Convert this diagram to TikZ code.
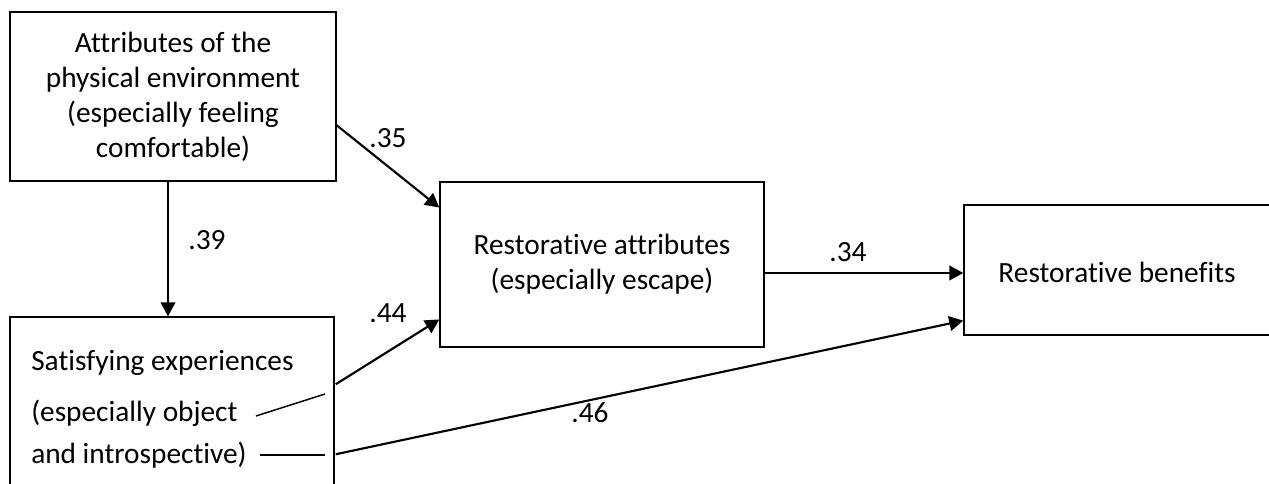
\documentclass[tikz,border=0pt]{standalone}
\usepackage{fontspec}
\setmainfont[Ligatures=NoCommon]{Carlito}
\usetikzlibrary{arrows.meta,calc}
\newdimen\pxu
\pxu=0.75pt
\begin{document}
\begin{tikzpicture}[x=0.75pt,y=-0.75pt,
  box/.style={draw, line width=1.1pt, rectangle, inner sep=0pt, align=center,
    font=\fontsize{22}{26.25}\selectfont},
  txt/.style={inner sep=0pt, font=\fontsize{22}{26.25}\selectfont},
  lbl/.style={inner sep=0pt, font=\fontsize{22}{26.25}\selectfont},
  arr/.style={line width=1.6pt, -{Triangle[length=10.5pt,width=11pt]}},
  thin/.style={line width=1.1pt}]
\useasboundingbox (0,0) rectangle (1269,484);
\clip (0,0) rectangle (1269,484);
\fill[white] (0,0) rectangle (1269,484);

\node[box, minimum width=326\pxu, minimum height=169\pxu] (A) at (173,96.5)
  {Attributes of the\\physical environment\\(especially feeling\\comfortable)};
\node[box, minimum width=324\pxu, minimum height=165\pxu] (R) at (602,264.5)
  {Restorative attributes\\(especially escape)};
\node[box, minimum width=308\pxu, minimum height=130\pxu] (B) at (1118,270) {};
\node[txt] (Bt) at (1117,272) {Restorative benefits};
\node[box, minimum width=324\pxu, minimum height=183\pxu] (S) at (172,408.5) {};
\node[txt, anchor=west] (s1) at (31,363) {Satisfying experiences};
\node[txt, anchor=west] (s2) at (31,413) {(especially object};
\node[txt, anchor=west] (s3) at (31,455) {and introspective)};

% short strokes inside S
\coordinate (l1a) at (256,416);
\coordinate (l1b) at (325,394);
\coordinate (l2a) at (260,455);
\coordinate (l2b) at (325,455);
\draw[thin] (l1a) -- (l1b);
\draw[thin] (l2a) -- (l2b);

% connector end points on the box borders
\coordinate (a1) at ($(A.south)+(-5,0)$);
\coordinate (a2) at (a1 |- S.north);
\coordinate (b1) at ($(A.north east)!0.669!(A.south east)$);
\coordinate (b2) at ($(R.north west)!0.158!(R.south west)$);
\coordinate (c1) at ($(S.north east)+(1,68)$);
\coordinate (c2) at ($(R.north west)!0.83!(R.south west)$);
\coordinate (d1) at ($(S.north east)+(1,138)$);
\coordinate (d2) at ($(B.north west)!0.885!(B.south west)$);
\coordinate (e1) at ($(R.east)+(0,8.5)$);
\coordinate (e2) at (e1 -| B.west);

\draw[arr] (a1) -- (a2);
\draw[arr] (b1) -- (b2);
\draw[arr] (c1) -- (c2);
\draw[arr] (d1) -- (d2);
\draw[arr] (e1) -- (e2);

% labels
\node[lbl] (L39) at (207,240) {.39};
\node[lbl] (L35) at (388,138) {.35};
\node[lbl] (L44) at (388,313) {.44};
\node[lbl] (L34) at (848,252) {.34};
\node[lbl] (L46) at (590,413) {.46};
\end{tikzpicture}
\end{document}
